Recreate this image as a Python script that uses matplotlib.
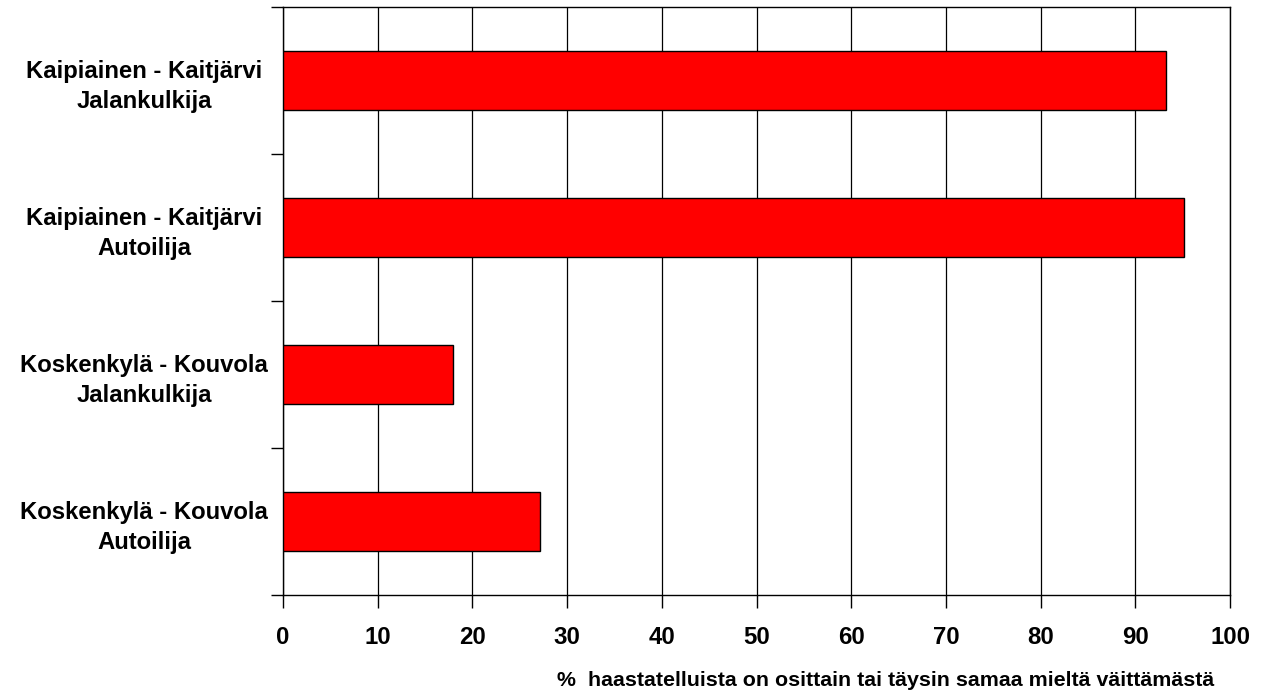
import numpy as np
import matplotlib.pyplot as plt

# kategoriat ylhäältä alas
labels = ['Kaipiainen - Kaitjärvi\nJalankulkija',
          'Kaipiainen - Kaitjärvi\nAutoilija',
          'Koskenkylä - Kouvola\nJalankulkija',
          'Koskenkylä - Kouvola\nAutoilija']
values = [93.2, 95.1, 18.0, 27.1]
xticks = [0, 10, 20, 30, 40, 50, 60, 70, 80, 90, 100]
xlabel = '%  haastatelluista on osittain tai täysin samaa mieltä väittämästä'

plt.rcParams['font.family'] = ['Liberation Sans', 'DejaVu Sans']

fig = plt.figure(figsize=(12.61, 6.94), dpi=100)
ax = fig.add_axes([283 / 1261, 1 - 595 / 694, (1230 - 283) / 1261, (595 - 7) / 694])

pos = np.arange(len(labels))[::-1]
ax.barh(pos, values, height=0.4, color='#ff0000', edgecolor='black', linewidth=1.0, zorder=3)

ax.set_xlim(0, 100)
ax.set_ylim(-0.5, len(labels) - 0.5)
ax.set_xticks(xticks)
ax.set_xticklabels([str(t) for t in xticks], fontsize=17.3, fontweight='bold')

# tikit kategorioiden väleissä, nimet keskellä
ax.set_yticks(np.arange(-0.5, len(labels), 1.0))
ax.set_yticklabels([])
ax.set_yticks(pos, minor=True)
ax.set_yticklabels(labels, minor=True, fontsize=17.2, fontweight='bold', ha='center',
                   linespacing=1.4)
ax.tick_params(axis='y', which='minor', length=0, pad=100)
ax.tick_params(axis='y', which='major', length=9, width=1, direction='out')
ax.tick_params(axis='x', length=9, width=1, direction='out', pad=13)

ax.grid(axis='x', color='black', linewidth=0.9, zorder=0)
for s in ax.spines.values():
    s.set_linewidth(1.0)

fig.text(886 / 1261, 1 - 681 / 694, xlabel, fontsize=15.4, fontweight='bold', ha='center', va='center')

fig.savefig('out.png', dpi=100)
